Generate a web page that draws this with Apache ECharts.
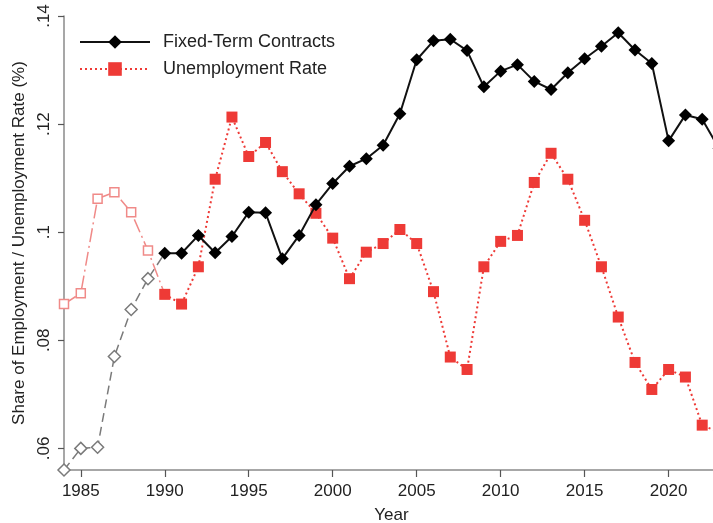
<!DOCTYPE html>
<html>
<head>
<meta charset="utf-8">
<script src="https://cdn.jsdelivr.net/npm/echarts@6/dist/echarts.min.js"></script>
<style>html,body{margin:0;padding:0;background:#fff;}#c{width:713px;height:523px;}</style>
</head>
<body>
<div id="c"></div>
<script>
// Pre-1990 years (hollow markers)
var preYears = [1984, 1985, 1986, 1987, 1988, 1989];
var ftcPre = [0.0560, 0.0600, 0.0602, 0.0770, 0.0857, 0.0914];
var unempPre = [0.0867, 0.0887, 0.1062, 0.1074, 0.1037, 0.0966];

// 1990 onwards
var years = [1990,1991,1992,1993,1994,1995,1996,1997,1998,1999,2000,2001,2002,2003,2004,2005,2006,2007,2008,2009,2010,2011,2012,2013,2014,2015,2016,2017,2018,2019,2020,2021,2022,2023];
var ftc = [0.0961,0.0961,0.0994,0.0962,0.0992,0.1037,0.1036,0.0951,0.0994,0.1051,0.1090,0.1122,0.1136,0.1161,0.1219,0.1319,0.1354,0.1357,0.1336,0.1269,0.1298,0.1310,0.1279,0.1264,0.1295,0.1321,0.1344,0.1369,0.1337,0.1312,0.1169,0.1217,0.1209,0.1155];
var unemp = [0.0885,0.0867,0.0936,0.1098,0.1213,0.1140,0.1166,0.1112,0.1071,0.1035,0.0989,0.0914,0.0963,0.0979,0.1005,0.0979,0.0890,0.0769,0.0746,0.0936,0.0983,0.0994,0.1092,0.1146,0.1098,0.1022,0.0936,0.0843,0.0759,0.0709,0.0746,0.0732,0.0643,0.0630];

var xTicks = [1985, 1990, 1995, 2000, 2005, 2010, 2015, 2020];
var yTicks = [0.06, 0.08, 0.10, 0.12, 0.14];
var yTickLabels = ['.06', '.08', '.1', '.12', '.14'];

function pairs(xs, ys) { return xs.map(function (x, i) { return [x, ys[i]]; }); }
// pre-period series joined to first 1990 point (no marker on the joining point)
function preSeriesData(ys, joinVal) {
  var d = pairs(preYears, ys);
  d.push({ value: [years[0], joinVal], symbol: 'none' });
  return d;
}

var FONT = '"Liberation Sans", Arial, Helvetica, sans-serif';
var chart = echarts.init(document.getElementById('c'), null, { renderer: 'canvas' });
chart.setOption({
  animation: false,
  backgroundColor: '#fff',
  textStyle: { fontFamily: FONT },
  grid: { left: 64, right: -6, top: 16, bottom: 53, containLabel: false, outerBoundsMode: 'none' },
  legend: {
    data: ['Fixed-Term Contracts', 'Unemployment Rate'],
    orient: 'vertical', left: 79, top: 33, padding: 0,
    itemWidth: 70, itemHeight: 17, itemGap: 9,
    textStyle: { fontFamily: FONT, fontSize: 18, color: '#222', lineHeight: 18, padding: [0, 0, 0, 8] }
  },
  xAxis: {
    type: 'value', min: 1984, max: 2023,
    name: 'Year', nameLocation: 'middle', nameGap: 37,
    nameTextStyle: { fontFamily: FONT, fontSize: 17, color: '#222' },
    axisLine: { show: true, onZero: false, lineStyle: { color: '#8a8a8a', width: 1.5 } },
    axisTick: { show: true, length: 7, customValues: xTicks, lineStyle: { color: '#555', width: 1.2 } },
    axisLabel: { customValues: xTicks, fontFamily: FONT, fontSize: 17, color: '#222', margin: 13, formatter: function (v) { return String(v); } },
    splitLine: { show: false }
  },
  yAxis: {
    type: 'value', min: 0.056, max: 0.14,
    name: 'Share of Employment / Unemployment Rate (%)', nameLocation: 'middle', nameGap: 27,
    nameTextStyle: { fontFamily: FONT, fontSize: 17, color: '#222' },
    axisLine: { show: true, onZero: false, lineStyle: { color: '#8a8a8a', width: 1.5 } },
    axisTick: { show: true, length: 6, customValues: yTicks, lineStyle: { color: '#555', width: 1.2 } },
    axisLabel: {
      customValues: yTicks, rotate: 90, fontFamily: FONT, fontSize: 17, color: '#222', margin: 11,
      formatter: function (v) {
        for (var i = 0; i < yTicks.length; i++) { if (Math.abs(yTicks[i] - v) < 1e-9) return yTickLabels[i]; }
        return '';
      }
    },
    splitLine: { show: false }
  },
  series: [
    {
      name: 'FTC pre-1990', type: 'line', clip: false, z: 2,
      data: preSeriesData(ftcPre, ftc[0]),
      symbol: 'diamond', symbolSize: 12, showSymbol: true,
      itemStyle: { color: '#fff', borderColor: '#7a7a7a', borderWidth: 1.5 },
      lineStyle: { color: '#7a7a7a', width: 1.5, type: [9, 5] }
    },
    {
      name: 'Unemployment pre-1990', type: 'line', clip: false, z: 2,
      data: preSeriesData(unempPre, unemp[0]),
      symbol: 'rect', symbolSize: 9,
      itemStyle: { color: '#fff', borderColor: '#f08a88', borderWidth: 1.5 },
      lineStyle: { color: '#f08a88', width: 1.5, type: [14, 4, 2, 4] }
    },
    {
      name: 'Unemployment Rate', type: 'line', clip: false, z: 3,
      data: pairs(years, unemp),
      symbol: 'rect', symbolSize: 11,
      itemStyle: { color: '#ee3a36', borderColor: '#ee3a36', borderWidth: 0 },
      lineStyle: { color: '#ee3a36', width: 2, type: [2, 3] }
    },
    {
      name: 'Fixed-Term Contracts', type: 'line', clip: false, z: 4,
      data: pairs(years, ftc),
      symbol: 'diamond', symbolSize: 13,
      itemStyle: { color: '#000', borderWidth: 0 },
      lineStyle: { color: '#111', width: 2 }
    }
  ]
});
</script>
</body>
</html>
